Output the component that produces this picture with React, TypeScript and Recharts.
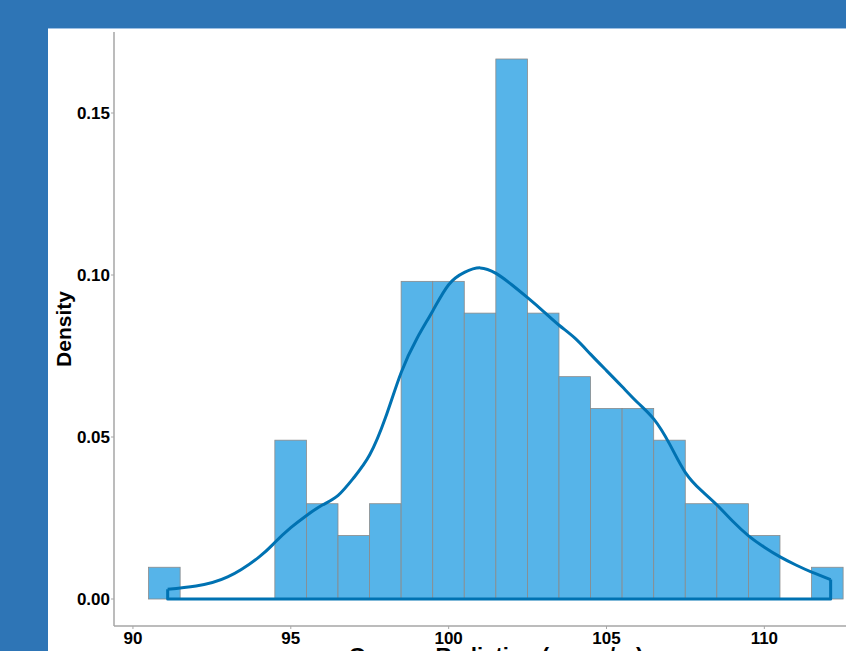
import React from 'react';
import { ComposedChart, Bar, Line, XAxis, YAxis } from 'recharts';

// histogram bins (width 1, centred on the integers)
const binCenters = [91, 92, 93, 94, 95, 96, 97, 98, 99, 100, 101, 102, 103, 104, 105, 106, 107, 108, 109, 110, 111, 112];
const binCounts = [1, 0, 0, 0, 5, 3, 2, 3, 10, 10, 9, 17, 9, 7, 6, 6, 5, 3, 3, 2, 0, 1];
const sampleSize = 102;

// kernel density curve
const curveX = [
  91.1, 92, 93, 94, 94.5, 95, 95.5, 96, 96.5, 97, 97.5, 98, 98.5, 99, 99.5, 100, 100.5, 101, 101.5,
  102, 102.5, 103, 103.5, 104, 104.5, 105, 105.5, 106, 106.5, 107, 107.5, 108, 108.5, 109, 109.5,
  110, 110.5, 111, 111.5, 112.1,
];
const curveDensity = [
  0.003, 0.004, 0.0068, 0.013, 0.0175, 0.022, 0.0258, 0.029, 0.032, 0.0375, 0.0445, 0.056, 0.07, 0.0805,
  0.089, 0.097, 0.1008, 0.1022, 0.1005, 0.097, 0.093, 0.0888, 0.0845, 0.0805, 0.0755, 0.0705, 0.0655,
  0.0605, 0.0555, 0.0478, 0.039, 0.0335, 0.029, 0.024, 0.0195, 0.016, 0.013, 0.0105, 0.0083, 0.006,
];

const xTicks = [90, 95, 100, 105, 110];
const yTicks = [0, 0.05, 0.1, 0.15];

const histData = binCenters.map((x, i) => ({ x, density: binCounts[i] / sampleSize }));
const curveData = curveX.map((x, i) => ({ x, density: curveDensity[i] }));
const first = curveData[0];
const last = curveData[curveData.length - 1];
const outlineData = [
  { x: first.x, density: first.density },
  { x: first.x, density: 0 },
  { x: last.x, density: 0 },
  { x: last.x, density: last.density },
];

const X_DOMAIN: [number, number] = [89.4, 113.6];
const Y_DOMAIN: [number, number] = [-0.00833, 0.175];
const PLOT_W = 764;
const BIN_PX = (PLOT_W / (X_DOMAIN[1] - X_DOMAIN[0])) * 1;

const FONT = '"Liberation Sans", Arial, sans-serif';
const AXIS_GREY = '#a6a6a6';
const tickStyle = { fill: '#000', fontSize: 17, fontWeight: 700, fontFamily: FONT };

const HistBar = (props: any) => {
  const { x, y, width, height } = props;
  if (!height || height <= 0) return null;
  const cx = x + width / 2;
  return (
    <rect
      x={cx - BIN_PX / 2}
      y={y}
      width={BIN_PX}
      height={height}
      fill="#56B4E9"
      stroke="#8a8a8a"
      strokeWidth={0.8}
    />
  );
};

const App = () => {
  return (
    <div
      style={{
        position: 'fixed',
        left: 0,
        top: 0,
        width: 846,
        height: 651,
        background: '#2E75B6',
        overflow: 'hidden',
      }}
    >
      <style>{'body{margin:0;overflow:hidden}'}</style>
      <div
        style={{
          position: 'absolute',
          left: 48,
          top: 28,
          width: 798,
          height: 623,
          background: '#fff',
          borderTop: '1px solid #9dc0e4',
          boxSizing: 'border-box',
          overflow: 'hidden',
        }}
      >
        <div style={{ position: 'absolute', left: 0, top: -1 }}>
          <ComposedChart
            width={900}
            height={700}
            data={histData}
            margin={{ top: 4, right: 70, left: 0, bottom: 0 }}
            barCategoryGap={0}
          >
            <XAxis
              dataKey="x"
              type="number"
              domain={X_DOMAIN}
              ticks={xTicks}
              allowDataOverflow
              height={102}
              tickSize={3}
              tickMargin={3}
              axisLine={{ stroke: AXIS_GREY, strokeWidth: 1.5 }}
              tickLine={{ stroke: AXIS_GREY }}
              tick={tickStyle}
              label={{
                value: 'Gamma Radiation (mrem/yr)',
                position: 'insideTop',
                offset: 21,
                style: { fill: '#000', fontSize: 22, fontWeight: 700, fontFamily: FONT },
              }}
            />
            <YAxis
              type="number"
              domain={Y_DOMAIN}
              ticks={yTicks}
              allowDataOverflow
              width={66}
              tickSize={3}
              tickMargin={1}
              tickFormatter={(v: number) => v.toFixed(2)}
              axisLine={{ stroke: AXIS_GREY, strokeWidth: 1.5 }}
              tickLine={{ stroke: AXIS_GREY }}
              tick={tickStyle}
              label={{
                value: 'Density',
                position: 'center',
                angle: -90,
                dx: -17,
                style: { fill: '#000', fontSize: 21, fontWeight: 700, fontFamily: FONT, textAnchor: 'middle' },
              }}
            />
            <Bar dataKey="density" barSize={20} shape={<HistBar />} isAnimationActive={false} />
            <Line
              data={outlineData}
              dataKey="density"
              type="linear"
              stroke="#0072B2"
              strokeWidth={3}
              strokeLinejoin="round"
              dot={false}
              activeDot={false}
              isAnimationActive={false}
            />
            <Line
              data={curveData}
              dataKey="density"
              type="natural"
              stroke="#0072B2"
              strokeWidth={3}
              dot={false}
              activeDot={false}
              isAnimationActive={false}
            />
          </ComposedChart>
        </div>
      </div>
    </div>
  );
};

export default App;
